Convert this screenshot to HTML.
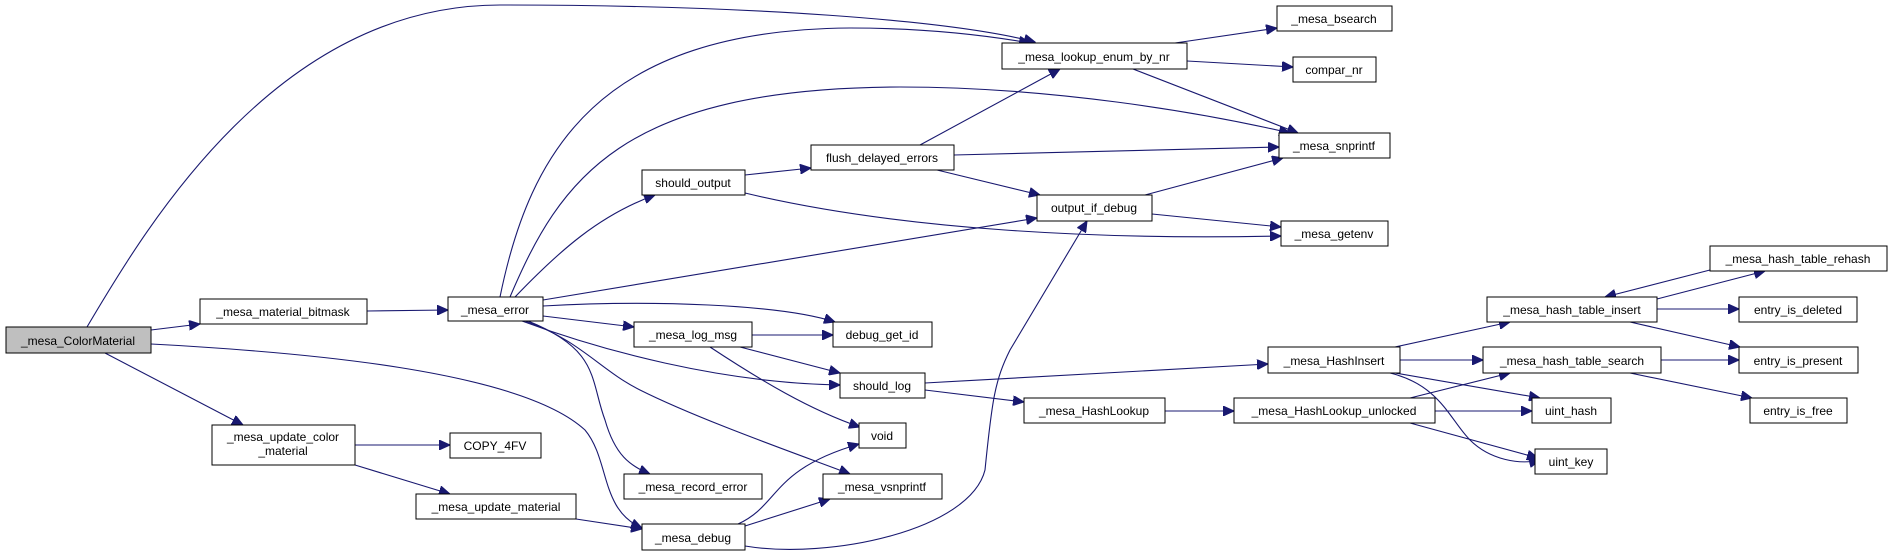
<!DOCTYPE html>
<html><head><meta charset="utf-8"><style>
html,body{margin:0;padding:0;background:#fff;}
svg{display:block}
text{font-family:"Liberation Sans",Arial,sans-serif;font-size:12px;fill:#000;text-anchor:middle;}
rect{fill:#fff;stroke:#000;stroke-width:1;}
path{fill:none;stroke:#191970;stroke-width:1.1;}
</style></head><body>
<svg width="1893" height="557" viewBox="0 0 1893 557" xmlns="http://www.w3.org/2000/svg">
<defs>
<marker id="a" markerUnits="userSpaceOnUse" markerWidth="12" markerHeight="10" refX="11" refY="5" orient="auto">
<path d="M0,0 L11,5 L0,10 Z" style="fill:#191970;stroke:#191970;stroke-width:1"/>
</marker>
</defs>
<g marker-end="url(#a)">
<path d="M87,327 C150,220 280,5 500,5 C750,5 950,20 1035,42"/>
<path d="M151,330 L200,324"/>
<path d="M151,344 C300,352 520,370 585,430 C610,460 600,510 642,528"/>
<path d="M105,353 L243,425"/>
<path d="M367,311 L448,310"/>
<path d="M355,445 L450,445"/>
<path d="M355,465 L450,494"/>
<path d="M576,519 L642,529"/>
<path d="M500,297 C530,150 600,30 850,28 C930,28 990,36 1030,43"/>
<path d="M510,297 C560,180 620,88 900,87 C1050,87 1200,112 1290,133"/>
<path d="M515,297 C560,250 600,215 655,195"/>
<path d="M543,300 L1037,218"/>
<path d="M543,306 C650,300 780,304 835,322"/>
<path d="M543,316 L634,327"/>
<path d="M522,321 C600,350 720,383 840,385"/>
<path d="M528,321 C600,350 590,380 605,420 C615,455 630,466 650,474"/>
<path d="M525,321 C580,340 600,370 640,390 C700,420 800,455 850,474"/>
<path d="M752,335 L833,335"/>
<path d="M740,347 L840,373"/>
<path d="M710,347 C760,380 810,410 860,427"/>
<path d="M745,175 L811,168"/>
<path d="M745,193 C900,230 1100,240 1281,236"/>
<path d="M920,145 L1060,69"/>
<path d="M954,155 L1279,147"/>
<path d="M937,170 L1040,195"/>
<path d="M1175,43 L1277,28"/>
<path d="M1187,61 L1293,67"/>
<path d="M1133,69 L1298,133"/>
<path d="M1145,195 L1283,158"/>
<path d="M1152,214 L1281,227"/>
<path d="M745,546 C830,560 970,530 985,470 C992,400 995,380 1010,350 L1087,221"/>
<path d="M738,524 C780,505 770,470 859,444"/>
<path d="M745,526 L830,499"/>
<path d="M925,383 L1268,364"/>
<path d="M925,390 L1024,402"/>
<path d="M1165,411 L1234,411"/>
<path d="M1395,347 L1510,322"/>
<path d="M1400,360 L1483,360"/>
<path d="M1395,373 L1540,398"/>
<path d="M1390,373 C1440,385 1450,420 1470,440 C1490,460 1520,465 1540,460"/>
<path d="M1410,398 L1510,373"/>
<path d="M1435,411 L1532,411"/>
<path d="M1410,423 L1538,458"/>
<path d="M1657,299 L1765,271"/>
<path d="M1710,270 L1605,297"/>
<path d="M1657,309 L1739,309"/>
<path d="M1630,322 L1740,347"/>
<path d="M1661,360 L1739,360"/>
<path d="M1630,373 L1752,398"/>
</g>
<g>
<rect x="6" y="327" width="145" height="26" style="fill:#bfbfbf"/><text x="78" y="345">_mesa_ColorMaterial</text>
<rect x="200" y="299" width="167" height="25"/><text x="283" y="316">_mesa_material_bitmask</text>
<rect x="212" y="425" width="143" height="40"/><text x="283" y="441">_mesa_update_color</text><text x="283" y="455">_material</text>
<rect x="448" y="297" width="95" height="24"/><text x="495" y="314">_mesa_error</text>
<rect x="634" y="322" width="118" height="25"/><text x="693" y="339">_mesa_log_msg</text>
<rect x="833" y="322" width="99" height="25"/><text x="882" y="339">debug_get_id</text>
<rect x="840" y="373" width="85" height="25"/><text x="882" y="390">should_log</text>
<rect x="859" y="423" width="47" height="25"/><text x="882" y="440">void</text>
<rect x="624" y="474" width="138" height="25"/><text x="693" y="491">_mesa_record_error</text>
<rect x="823" y="474" width="119" height="25"/><text x="882" y="491">_mesa_vsnprintf</text>
<rect x="450" y="433" width="91" height="25"/><text x="495" y="450">COPY_4FV</text>
<rect x="416" y="494" width="160" height="25"/><text x="496" y="511">_mesa_update_material</text>
<rect x="642" y="524" width="103" height="26"/><text x="693" y="542">_mesa_debug</text>
<rect x="642" y="170" width="103" height="25"/><text x="693" y="187">should_output</text>
<rect x="811" y="145" width="143" height="25"/><text x="882" y="162">flush_delayed_errors</text>
<rect x="1002" y="43" width="185" height="26"/><text x="1094" y="61">_mesa_lookup_enum_by_nr</text>
<rect x="1277" y="6" width="115" height="25"/><text x="1334" y="23">_mesa_bsearch</text>
<rect x="1293" y="57" width="83" height="25"/><text x="1334" y="74">compar_nr</text>
<rect x="1279" y="133" width="111" height="25"/><text x="1334" y="150">_mesa_snprintf</text>
<rect x="1037" y="195" width="115" height="26"/><text x="1094" y="212">output_if_debug</text>
<rect x="1281" y="221" width="107" height="25"/><text x="1334" y="238">_mesa_getenv</text>
<rect x="1268" y="347" width="132" height="26"/><text x="1334" y="365">_mesa_HashInsert</text>
<rect x="1024" y="398" width="141" height="25"/><text x="1094" y="415">_mesa_HashLookup</text>
<rect x="1234" y="398" width="201" height="25"/><text x="1334" y="415">_mesa_HashLookup_unlocked</text>
<rect x="1532" y="398" width="79" height="25"/><text x="1571" y="415">uint_hash</text>
<rect x="1535" y="449" width="72" height="25"/><text x="1571" y="466">uint_key</text>
<rect x="1710" y="246" width="177" height="25"/><text x="1798" y="263">_mesa_hash_table_rehash</text>
<rect x="1487" y="297" width="170" height="25"/><text x="1572" y="314">_mesa_hash_table_insert</text>
<rect x="1739" y="297" width="118" height="25"/><text x="1798" y="314">entry_is_deleted</text>
<rect x="1483" y="347" width="178" height="26"/><text x="1572" y="365">_mesa_hash_table_search</text>
<rect x="1739" y="347" width="119" height="26"/><text x="1798" y="365">entry_is_present</text>
<rect x="1750" y="398" width="97" height="25"/><text x="1798" y="415">entry_is_free</text>
</g>
</svg>
</body></html>
